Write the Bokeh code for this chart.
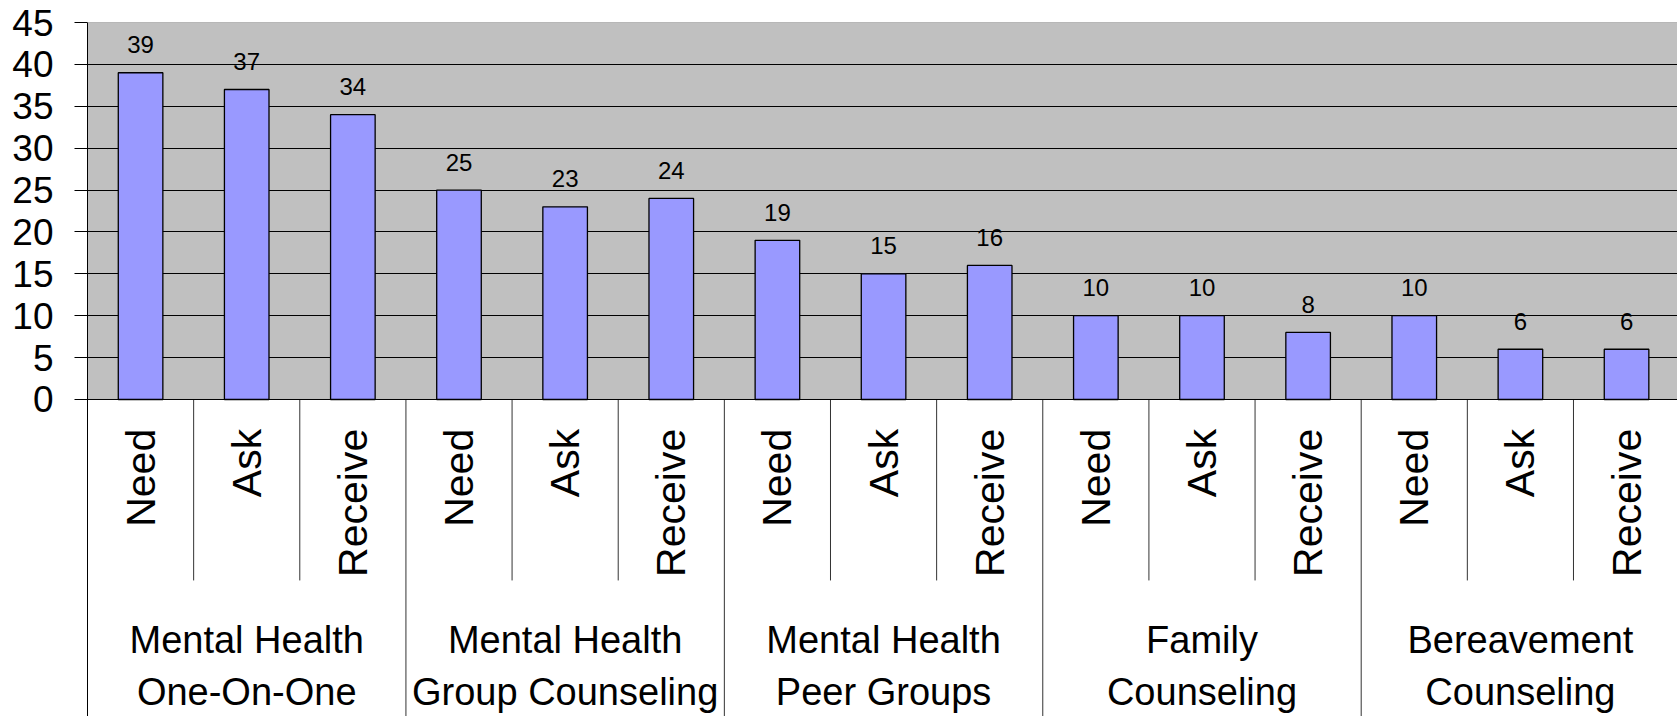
import math
from bokeh.plotting import figure
from bokeh.models import Range1d, FixedTicker, Span, ColumnDataSource
from bokeh.core.properties import value
from bokeh.embed import file_html
from bokeh.resources import INLINE

# ---- data ----
groups_line1 = ["Mental Health", "Mental Health", "Mental Health", "Family", "Bereavement"]
groups_line2 = ["One-On-One", "Group Counseling", "Peer Groups", "Counseling", "Counseling"]
subcats = ["Need", "Ask", "Receive"]
need = [39, 25, 19, 10, 10]
ask = [37, 23, 15, 10, 6]
receive = [34, 24, 16, 8, 6]
y_ticks = [0, 5, 10, 15, 20, 25, 30, 35, 40, 45]

FONT = "Liberation Sans"
n_groups = len(groups_line1)
n_sub = len(subcats)
n_cat = n_groups * n_sub

xs, counts, sub_labels = [], [], []
for g in range(n_groups):
    for s, series in enumerate([need, ask, receive]):
        k = g * n_sub + s
        xs.append(k + 0.5)
        counts.append(series[g])
        sub_labels.append(subcats[s])

# layout constants (data units below zero used for the label area)
Y_MIN = -37.84
Y_MAX = 45
SUB_LABEL_Y = -3.5
SUB_SEP_Y = -21.6
G1_Y = -28.65
G2_Y = -34.9

p = figure(width=1677, height=716, output_backend="svg", toolbar_location=None,
           x_range=Range1d(0, 14.98), y_range=Range1d(Y_MIN, Y_MAX),
           min_border_left=87, min_border_top=22, min_border_right=0, min_border_bottom=0)
p.outline_line_color = None
p.background_fill_color = "white"
p.border_fill_color = "white"

# plot area background (0..45)
p.quad(left=[0], right=[n_cat], bottom=[y_ticks[0]], top=[y_ticks[-1]],
       fill_color="#C0C0C0", line_color=None, level="image")

# grid
p.xgrid.visible = False
p.ygrid.ticker = FixedTicker(ticks=y_ticks[1:-1])
p.ygrid.grid_line_color = "black"
p.ygrid.grid_line_width = 1
p.add_layout(Span(location=y_ticks[-1], dimension="width", line_color="#808080", line_width=1))

# axes
p.xaxis.visible = False
ya = p.yaxis[0]
ya.ticker = FixedTicker(ticks=y_ticks)
ya.minor_tick_line_color = None
ya.major_tick_in = 0
ya.major_tick_out = 13
ya.major_tick_line_color = "black"
ya.axis_line_color = "black"
ya.major_label_text_font = FONT
ya.major_label_text_font_size = "37px"
ya.major_label_text_color = "black"
ya.major_label_standoff = 21

# bars
src = ColumnDataSource(dict(x=xs, top=counts, lab=[str(c) for c in counts], sub=sub_labels))
p.vbar(x="x", top="top", width=0.42, bottom=0, source=src,
       fill_color="#9999FF", line_color="black", line_width=1.3)

# zero line
p.add_layout(Span(location=0, dimension="width", line_color="black", line_width=1))

# value labels
p.text(x="x", y="top", text="lab", source=src, y_offset=-28,
       text_font=value(FONT), text_font_size="24px", text_color="black",
       text_align="center", text_baseline="middle")

# separators
sub_sep_x = [k for k in range(1, n_cat) if k % n_sub != 0]
p.segment(x0=sub_sep_x, y0=[0] * len(sub_sep_x), x1=sub_sep_x, y1=[SUB_SEP_Y] * len(sub_sep_x),
          line_color="#333333", line_width=1)
grp_sep_x = [g * n_sub for g in range(n_groups + 1)]
p.segment(x0=grp_sep_x, y0=[0] * len(grp_sep_x), x1=grp_sep_x, y1=[Y_MIN] * len(grp_sep_x),
          line_color="#333333", line_width=1)

# sub-category labels (rotated)
p.text(x="x", y=SUB_LABEL_Y, text="sub", source=src, angle=math.pi / 2,
       text_font=value(FONT), text_font_size="41px", text_color="black",
       text_align="right", text_baseline="middle")

# group labels
gx = [g * n_sub + n_sub / 2 for g in range(n_groups)]
p.text(x=gx, y=[G1_Y] * n_groups, text=groups_line1,
       text_font=value(FONT), text_font_size="38px", text_color="black",
       text_align="center", text_baseline="middle")
p.text(x=gx, y=[G2_Y] * n_groups, text=groups_line2,
       text_font=value(FONT), text_font_size="38px", text_color="black",
       text_align="center", text_baseline="middle")

open("out.html", "w").write(file_html(p, INLINE))
